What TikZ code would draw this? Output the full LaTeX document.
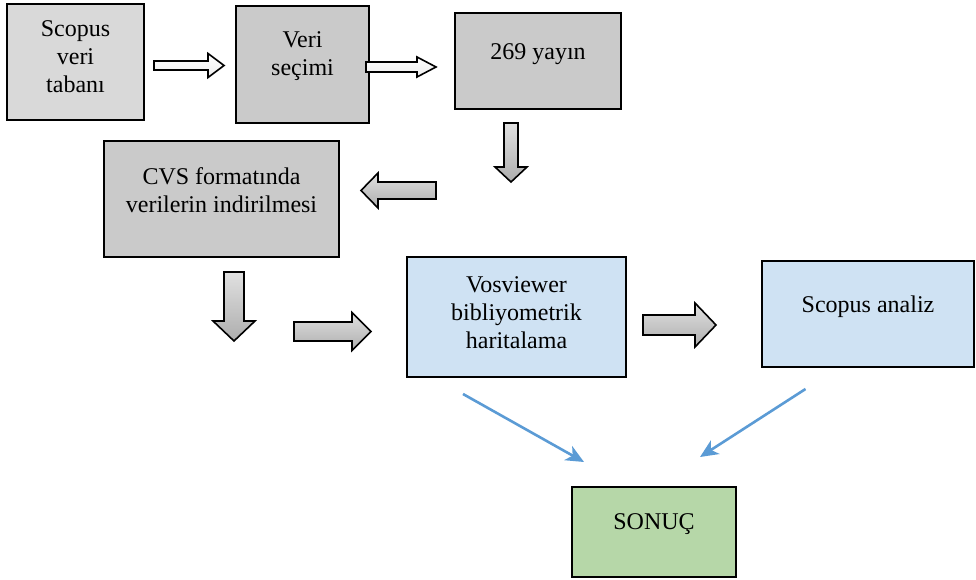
\documentclass[tikz,border=0pt]{standalone}
\usepackage{fontspec}
\setmainfont{Liberation Serif}
\usetikzlibrary{arrows.meta}
\definecolor{acikgri}{HTML}{D9D9D9}
\definecolor{koyugri}{HTML}{CACACA}
\definecolor{acikmavi}{HTML}{CFE2F3}
\definecolor{yesil}{HTML}{B6D7A8}
\definecolor{okmavi}{HTML}{5B9BD5}

\begin{document}
\begin{tikzpicture}[x=1pt, y=-1pt,
    nodes = {font=\fontsize{24}{28}\selectfont},
    kutu/.style = {draw, line width=2pt, inner sep=0pt, align=center},
    blok/.style = {draw, line width=1.6pt, line join=miter},
    beyaz/.style = {top color=white, bottom color=gray!15},
    gri/.style = {top color=black!12, bottom color=black!32},
    bag/.style  = {draw=okmavi, line width=2.6pt, -{Stealth[length=18pt,width=16pt,inset=5pt]}}]
  \useasboundingbox (0,0) rectangle (976,580);
  % Kutular: ad / x / y / genislik / yukseklik / son satir / renk / metin
  \foreach \ad/\x/\y/\w/\h/\ust/\renk/\metin in {
      b1/75.5/62/137/116/89/acikgri/{Scopus\\veri\\tabanı},
      b2/302.5/64.5/133/117/70/koyugri/{Veri\\seçimi},
      b3/538/61/166/96/47/koyugri/{269 yayın},
      b4/221.5/199/235/116/71/koyugri/{CVS formatında\\verilerin indirilmesi},
      b5/516.5/317/219/120/91/acikmavi/{Vosviewer\\bibliyometrik\\haritalama},
      b6/868/314/212/106/51/acikmavi/{Scopus analiz},
      b7/654/532/164/90/42/yesil/{SONUÇ}} {
      \pgfmathsetmacro\alt{\h-\ust}            % Depth below last baseline
      \node[kutu, fill=\renk, minimum width=\w pt, minimum height=\h pt,
            text height=\ust pt, text depth=\alt pt] (\ad) at (\x,\y) {\metin};
    };
  % Blok oklar: x / y / aci / boy / govde / bas / bas boyu / stil
  \foreach \x/\y/\aci/\L/\w/\W/\hb/\dolgu in {
      154/65.5/0/70/9/24/16/beyaz,
      366/67/0/70/10/20/19/beyaz,
      511/123/-90/59/14/32/15/gri,
      436/190.5/180/75/17/35/17/gri,
      234/272/-90/69/20/42/20/gri,
      294/331.5/0/77/19/38/19/gri,
      643/325/0/73/20/44/21/gri} {
      \draw[blok, \dolgu, shift={(\x,\y)}, rotate=\aci]
        (0,-\w/2) -- (\L-\hb,-\w/2) -- (\L-\hb,-\W/2) -- (\L,0)
        -- (\L-\hb,\W/2) -- (\L-\hb,\w/2) -- (0,\w/2) -- cycle;
    };
  % Mavi oklar
  \coordinate (v1) at ([xshift=-53.5pt, yshift=-16pt]b5.south);
  \coordinate (v2) at ([xshift=-70pt, yshift=24pt]b7.north);
  \coordinate (s1) at ([xshift=-62.5pt, yshift=-21pt]b6.south);
  \coordinate (s2) at ([xshift=46pt, yshift=29pt]b7.north);
  \draw[bag] (v1) -- (v2);
  \draw[bag] (s1) -- (s2);
\end{tikzpicture}
\end{document}
